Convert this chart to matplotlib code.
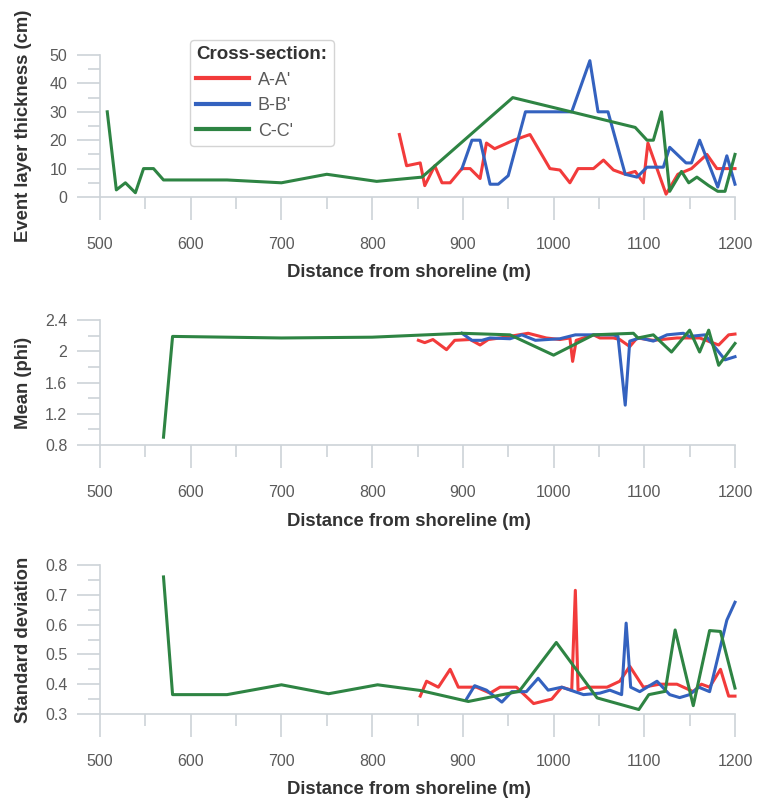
import numpy as np
import matplotlib
matplotlib.use('Agg')
import matplotlib.pyplot as plt
from matplotlib.ticker import MultipleLocator, FormatStrFormatter

plt.rcParams['font.family'] = ['Liberation Sans', 'DejaVu Sans']

# ---- Event layer thickness (cm) ----
thick_a_x = [830, 838, 853, 858, 869, 877, 886, 899, 908, 919, 926, 935, 956, 974, 996, 1007,
             1018, 1027, 1044, 1055, 1066, 1079, 1090, 1099, 1104, 1124, 1137, 1152, 1169, 1180, 1200]
thick_a_y = [22, 11, 12, 4, 11, 5, 5, 10, 10, 6.5, 19, 17, 20, 22, 10, 9.5,
             5, 10, 10, 13, 9.5, 8, 9, 5, 19, 1, 8, 10, 15, 10, 10]
thick_b_x = [899, 910, 919, 930, 939, 950, 969, 1020, 1040, 1049, 1060, 1079, 1092, 1103, 1121,
             1128, 1146, 1152, 1161, 1181, 1191, 1200]
thick_b_y = [10, 20, 20, 4.5, 4.5, 7.5, 30, 30, 48, 30, 30, 8, 7, 10.5, 10.5,
             17.5, 12, 12, 20, 3.5, 14.5, 4.5]
thick_c_x = [508, 518, 528, 539, 548, 559, 570, 640, 700, 750, 805, 855, 955, 1090, 1103, 1110,
             1119, 1128, 1141, 1149, 1158, 1171, 1181, 1189, 1200]
thick_c_y = [30, 2.5, 5, 1.5, 10, 10, 6, 6, 5, 8, 5.5, 7, 35, 24.5, 20, 20,
             30, 2, 9, 5, 7, 4, 2, 2, 15]

# ---- Mean (phi) ----
mean_a_x = [851, 858, 867, 882, 891, 908, 919, 928, 941, 972, 992, 1007, 1018, 1021, 1025, 1044,
            1051, 1066, 1073, 1084, 1092, 1110, 1136, 1161, 1182, 1193, 1200]
mean_a_y = [2.14, 2.11, 2.15, 2.02, 2.14, 2.15, 2.08, 2.15, 2.17, 2.23, 2.17, 2.15, 2.17, 1.87, 2.14, 2.21,
            2.17, 2.17, 2.15, 2.06, 2.17, 2.14, 2.17, 2.17, 2.08, 2.21, 2.22]
mean_b_x = [899, 910, 921, 930, 952, 965, 980, 993, 1007, 1024, 1037, 1066, 1071, 1079, 1084, 1095,
            1110, 1125, 1143, 1150, 1167, 1189, 1200]
mean_b_y = [2.23, 2.14, 2.14, 2.17, 2.16, 2.21, 2.14, 2.15, 2.16, 2.21, 2.21, 2.21, 2.19, 1.31, 2.13, 2.17,
            2.13, 2.21, 2.23, 2.19, 2.21, 1.89, 1.93]
mean_c_x = [570, 580, 700, 800, 899, 952, 1000, 1044, 1088, 1093, 1110, 1130, 1150, 1161, 1171, 1182, 1200]
mean_c_y = [0.9, 2.19, 2.17, 2.18, 2.23, 2.21, 1.95, 2.21, 2.23, 2.17, 2.21, 1.99, 2.27, 1.99, 2.27, 1.82, 2.10]

# ---- Standard deviation ----
std_a_x = [853, 860, 873, 886, 895, 915, 930, 941, 959, 978, 998, 1009, 1020, 1024, 1027, 1037,
           1059, 1073, 1084, 1099, 1117, 1136, 1154, 1163, 1172, 1184, 1193, 1200]
std_a_y = [0.36, 0.41, 0.39, 0.45, 0.39, 0.39, 0.37, 0.39, 0.39, 0.335, 0.35, 0.39, 0.38, 0.715, 0.38, 0.39,
           0.39, 0.41, 0.46, 0.39, 0.40, 0.40, 0.375, 0.40, 0.39, 0.45, 0.36, 0.36]
std_b_x = [904, 913, 926, 943, 954, 970, 983, 994, 1009, 1033, 1051, 1062, 1075, 1080, 1085, 1095,
           1114, 1128, 1139, 1150, 1160, 1172, 1191, 1200]
std_b_y = [0.35, 0.395, 0.38, 0.34, 0.375, 0.375, 0.42, 0.38, 0.39, 0.365, 0.37, 0.38, 0.365, 0.605, 0.39, 0.375,
           0.41, 0.365, 0.355, 0.365, 0.39, 0.375, 0.615, 0.675]
std_c_x = [570, 580, 640, 700, 752, 806, 853, 906, 962, 1003, 1048, 1094, 1105, 1123, 1134, 1154, 1172, 1184, 1200]
std_c_y = [0.76, 0.365, 0.365, 0.398, 0.368, 0.398, 0.379, 0.342, 0.376, 0.54, 0.354, 0.315, 0.365, 0.376,
           0.582, 0.328, 0.58, 0.577, 0.387]

labels = ["A-A'", "B-B'", "C-C'"]
colors = ['#f23b3b', '#3462bf', '#2e8443']

AXIS_GREY = '#cdd3d8'
TEXT_GREY = '#5a5a5a'
LABEL_DARK = '#333333'

W, H = 760, 801
fig = plt.figure(figsize=(W / 100, H / 100), dpi=100)


def make_axes(top_px, bottom_px):
    left, right = 100, 735
    return fig.add_axes([left / W, 1 - bottom_px / H, (right - left) / W, (bottom_px - top_px) / H])


def style_axes(ax, ylim, ymajor, yminor, yfmt, ylabel, xlab_y):
    ax.set_xlim(500, 1200)
    ax.set_ylim(*ylim)
    ax.xaxis.set_major_locator(MultipleLocator(100))
    ax.xaxis.set_minor_locator(MultipleLocator(50))
    ax.yaxis.set_major_locator(MultipleLocator(ymajor))
    ax.yaxis.set_minor_locator(MultipleLocator(yminor))
    ax.yaxis.set_major_formatter(FormatStrFormatter(yfmt))
    for side in ['top', 'right']:
        ax.spines[side].set_visible(False)
    for side in ['left', 'bottom']:
        ax.spines[side].set_color(AXIS_GREY)
        ax.spines[side].set_linewidth(1.2)
    ax.tick_params(which='major', direction='out', length=16.5, width=1.2, color=AXIS_GREY,
                   labelcolor=TEXT_GREY, labelsize=11.5)
    ax.tick_params(which='minor', direction='out', length=8.5, width=1.2, color=AXIS_GREY)
    ax.tick_params(axis='x', which='major', pad=12)
    ax.tick_params(axis='y', which='major', pad=7)
    ax.set_xlabel('Distance from shoreline (m)', fontsize=13.3, fontweight='bold',
                  color=LABEL_DARK, va='center')
    ax.xaxis.set_label_coords(0.487, xlab_y)
    ax.set_ylabel(ylabel, fontsize=13.3, fontweight='bold', color=LABEL_DARK, va='center')
    ax.yaxis.set_label_coords(-0.121, 0.5)
    ax.patch.set_alpha(0)


# top panel
ax1 = make_axes(55, 197)
for xs, ys, c, lab in [(thick_a_x, thick_a_y, colors[0], labels[0]),
                       (thick_b_x, thick_b_y, colors[1], labels[1]),
                       (thick_c_x, thick_c_y, colors[2], labels[2])]:
    ax1.plot(xs, ys, color=c, lw=2.2, label=lab, clip_on=False)
style_axes(ax1, (0, 50), 10, 5, '%g', 'Event layer thickness (cm)', -0.535)

leg = ax1.legend(loc='upper left', bbox_to_anchor=(190 / W, 1 - 40 / H), bbox_transform=fig.transFigure,
                 borderaxespad=0, title='Cross-section:', fontsize=13, handlelength=2.9,
                 handletextpad=0.5, labelspacing=0.47, fancybox=True, framealpha=1,
                 edgecolor='#d4d4d4', alignment='left', borderpad=0.35)
leg.get_title().set_fontweight('bold')
leg.get_title().set_fontsize(13.5)
leg.get_title().set_color(LABEL_DARK)
for t in leg.get_texts():
    t.set_color(TEXT_GREY)
for h in leg.get_lines():
    h.set_linewidth(3)

# middle panel
ax2 = make_axes(320, 445)
for xs, ys, c in [(mean_a_x, mean_a_y, colors[0]),
                  (mean_b_x, mean_b_y, colors[1]),
                  (mean_c_x, mean_c_y, colors[2])]:
    ax2.plot(xs, ys, color=c, lw=2.2, clip_on=False)
style_axes(ax2, (0.8, 2.4), 0.4, 0.2, '%g', 'Mean (phi)', -0.608)

# bottom panel
ax3 = make_axes(565, 714)
for xs, ys, c in [(std_a_x, std_a_y, colors[0]),
                  (std_b_x, std_b_y, colors[1]),
                  (std_c_x, std_c_y, colors[2])]:
    ax3.plot(xs, ys, color=c, lw=2.2, clip_on=False)
style_axes(ax3, (0.3, 0.8), 0.1, 0.05, '%g', 'Standard deviation', -0.51)

fig.savefig('out.png', dpi=100)
